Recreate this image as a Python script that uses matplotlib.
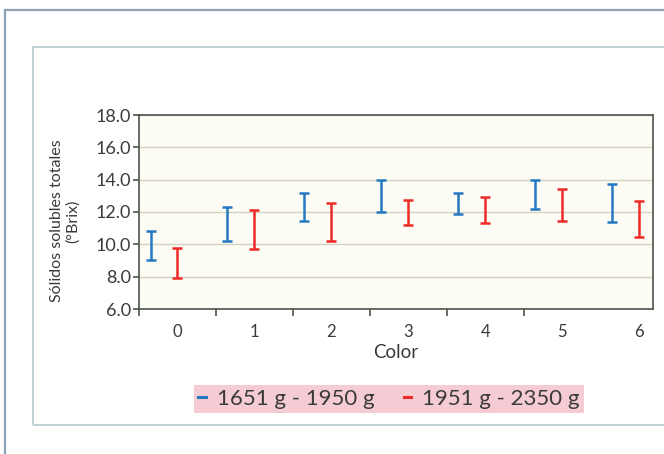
import matplotlib.pyplot as plt
from matplotlib.lines import Line2D
from matplotlib.patches import Rectangle

# Rango (min - max) de sólidos solubles por color y grupo de peso
colores = [0, 1, 2, 3, 4, 5, 6]
bajo_g1 = [9.05, 10.2, 11.45, 12.0, 11.9, 12.2, 11.4]
alto_g1 = [10.8, 12.3, 13.2, 14.0, 13.2, 14.0, 13.75]
bajo_g2 = [7.9, 9.7, 10.2, 11.2, 11.35, 11.45, 10.45]
alto_g2 = [9.75, 12.1, 12.55, 12.75, 12.95, 13.45, 12.65]
series = ['1651 g - 1950 g', '1951 g - 2350 g']

azul = '#2479c2'
rojo = '#ee2a26'
texto = '#3a3a3a'

plt.rcParams['font.family'] = ['Lato', 'DejaVu Sans']

fig = plt.figure(figsize=(6.64, 4.54), dpi=100)
W, H = 664, 454

# marcos de la página
fig.add_artist(Rectangle((5 / W, -0.1), 1.2, 1 - 10 / H + 0.1, transform=fig.transFigure,
                         fill=False, edgecolor='#8ea2b6', lw=1.6))
fig.add_artist(Rectangle((33 / W, 1 - 425 / H), 1.2, (425 - 47) / H, transform=fig.transFigure,
                         fill=False, edgecolor='#b8c8cc', lw=1.2))

ax = fig.add_axes([139 / W, 1 - 309 / H, 514 / W, 194 / H])
ax.set_facecolor('#fcfcf5')

def rango(xs, lo, hi, color):
    mid = [(a + b) / 2 for a, b in zip(lo, hi)]
    err = [(b - a) / 2 for a, b in zip(lo, hi)]
    ax.errorbar(xs, mid, yerr=err, fmt='none', ecolor=color, elinewidth=1.8,
                capsize=3.8, capthick=1.8, zorder=3)

rango([c - 0.35 for c in colores], bajo_g1, alto_g1, azul)
rango(colores, bajo_g2, alto_g2, rojo)

ax.set_ylim(6, 18)
ax.set_xlim(-0.5, 6.18)
ax.set_yticks([6, 8, 10, 12, 14, 16, 18])
ax.set_yticklabels([f'{v:.1f}' for v in range(6, 19, 2)])
ax.yaxis.grid(True, color='#d6d2c2', lw=1)
ax.set_axisbelow(True)

ax.set_xticks([c - 0.5 for c in colores[:-1]])
ax.set_xticklabels([])
ax.set_xticks(colores, minor=True)
ax.set_xticklabels([str(c) for c in colores], minor=True)
ax.tick_params(axis='x', which='major', length=5, width=1.2, color='#4b5548', direction='out')
ax.tick_params(axis='x', which='minor', length=0, pad=11, labelsize=12, labelcolor=texto)
ax.tick_params(axis='y', length=4, width=1.2, color='#4b5548', pad=2, labelsize=13,
               labelcolor=texto)

for s in ax.spines.values():
    s.set_color('#4b5548')
    s.set_linewidth(1.2)

ax.set_xlabel('Color', fontsize=13.5, color=texto, labelpad=3)
fig.text(65 / W, 1 - 221 / H, 'Sólidos solubles totales\n(°Brix)', rotation=90,
         ha='center', va='center', fontsize=11.5, color=texto, linespacing=1.15)

handles = [Line2D([], [], color=azul, lw=2.2), Line2D([], [], color=rojo, lw=2.2)]
leg = fig.legend(handles, series, loc='center', bbox_to_anchor=(389 / W, 1 - 399 / H),
                 ncol=2, frameon=True, fontsize=16, handlelength=0.35, handletextpad=0.5,
                 columnspacing=1.3, borderpad=0.2, fancybox=False, labelcolor=texto)
leg.get_frame().set_facecolor('#f5ccd3')
leg.get_frame().set_edgecolor('none')
leg.get_frame().set_alpha(1)

fig.savefig('out.png', dpi=100)
plt.close(fig)
